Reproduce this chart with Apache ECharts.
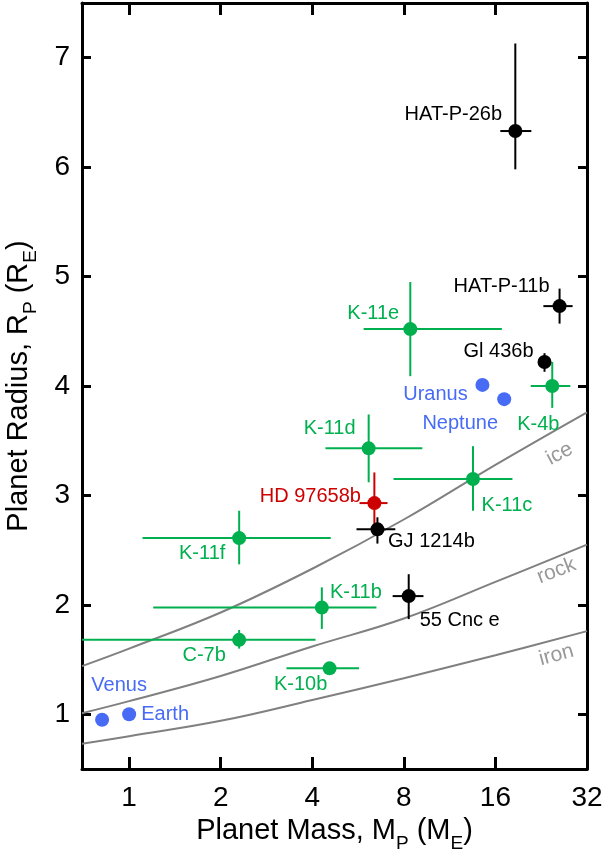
<!DOCTYPE html>
<html>
<head>
<meta charset="utf-8">
<script src="https://cdn.jsdelivr.net/npm/echarts@6/dist/echarts.min.js"></script>
<style>
html,body{margin:0;padding:0;background:#fff;}
#chart{width:607px;height:849px;}
</style>
</head>
<body>
<div id="chart"></div>
<script>
// ---- data ----
const planets = ['HAT-P-26b','HAT-P-11b','Gl 436b','K-4b','Uranus','Neptune','K-11e','K-11d','K-11c','HD 97658b','GJ 1214b','K-11f','K-11b','55 Cnc e','C-7b','K-10b','Venus','Earth'];
const groups = ['other','other','other','kepler','solar','solar','kepler','kepler','kepler','highlight','other','kepler','kepler','other','kepler','kepler','solar','solar'];
const massME = [18.6, 26.0, 23.2, 24.6, 14.5, 17.1, 8.4, 6.13, 13.5, 6.4, 6.55, 2.3, 4.3, 8.3, 2.3, 4.56, 0.815, 1.0];
const massLow = [16.6, 23.0, null, 20.9, null, null, 5.9, 4.42, 7.4, 5.72, 5.59, 1.107, 1.2, 7.35, 0.5, 3.29, null, null];
const massHigh = [21.0, 28.7, null, 28.2, null, null, 16.8, 9.2, 18.2, 7.07, 7.5, 4.6, 6.5, 9.28, 4.1, 5.7, null, null];
const radiusRE = [6.33, 4.73, 4.22, 4.0, 4.01, 3.88, 4.52, 3.43, 3.15, 2.93, 2.69, 2.61, 1.975, 2.08, 1.68, 1.42, 0.95, 1.0];
const radiusLow = [5.98, 4.57, 4.13, 3.80, null, null, 4.09, 3.12, 2.86, 2.74, 2.56, 2.37, 1.78, 1.87, 1.60, null, null, null];
const radiusHigh = [7.13, 4.89, 4.30, 4.22, null, null, 4.95, 3.74, 3.45, 3.21, 2.80, 2.86, 2.16, 2.28, 1.77, null, null, null];

const modelMass = [0.7, 1, 2, 4, 8, 16, 32];
const iceRadius = [1.44, 1.60, 1.93, 2.33, 2.78, 3.28, 3.76];
const rockRadius = [1.01, 1.12, 1.35, 1.62, 1.875, 2.21, 2.55];
const ironRadius = [0.73, 0.80, 0.94, 1.13, 1.33, 1.54, 1.76];

const modelNames = ['ice', 'rock', 'iron'];
const modelLabelMass = [26.0, 25.4, 25.4];
const modelLabelRadius = [3.38, 2.31, 1.54];

const massTicks = [1, 2, 4, 8, 16, 32];
const radiusTicks = [1, 2, 3, 4, 5, 6, 7];
const massRange = [0.7, 32];
const radiusRange = [0.5, 7.5];

// ---- styles ----
const colors = { other: '#000000', kepler: '#00b04f', solar: '#476bf5', highlight: '#cc0000' };
const labelOffsets = {
  'HAT-P-26b': [-62, -17], 'HAT-P-11b': [-58, -20], 'Gl 436b': [-46, -10], 'K-4b': [-14, 38],
  'Uranus': [-47, 10], 'Neptune': [-44, 24], 'K-11e': [-37, -16], 'K-11d': [-39, -20],
  'K-11c': [34, 26], 'HD 97658b': [-64, -7], 'GJ 1214b': [54, 12], 'K-11f': [-37, 15],
  'K-11b': [34, -15], '55 Cnc e': [51, 24], 'C-7b': [-35, 16], 'K-10b': [-29, 16],
  'Venus': [17, -34], 'Earth': [36, 0]
};
const modelLabelRotate = [28, 21, 15];
const FONT = 'Arial, "Liberation Sans", sans-serif';
const lg = v => Math.log2(v);

const xTickVals = massTicks.map(lg);

const titleRich = {
  a: { fontSize: 29, fontFamily: FONT, color: '#000', lineHeight: 29, padding: [0, 0, 7, 0], verticalAlign: 'bottom' },
  s: { fontSize: 19, fontFamily: FONT, color: '#000', lineHeight: 19, verticalAlign: 'bottom' }
};

function xAxisCfg(isMain) {
  return {
    type: 'value',
    position: isMain ? 'bottom' : 'top',
    min: lg(massRange[0]), max: lg(massRange[1]),
    axisLine: { show: true, onZero: false, lineStyle: { color: '#000', width: 3 } },
    axisTick: { show: true, inside: true, length: 12, lineStyle: { color: '#000', width: 3 }, customValues: xTickVals },
    axisLabel: { show: isMain, customValues: xTickVals, margin: 15, color: '#000', fontSize: 28, fontFamily: FONT,
      formatter: v => String(Math.round(Math.pow(2, v))) },
    splitLine: { show: false },
    name: isMain ? '{a|Planet Mass, M}{s|P}{a| (M}{s|E}{a|)}' : '',
    nameLocation: 'middle', nameGap: 42,
    nameTextStyle: { rich: titleRich }
  };
}
function yAxisCfg(isMain) {
  return {
    type: 'value',
    position: isMain ? 'left' : 'right',
    min: radiusRange[0], max: radiusRange[1],
    axisLine: { show: true, onZero: false, lineStyle: { color: '#000', width: 3 } },
    axisTick: { show: true, inside: true, length: 9, lineStyle: { color: '#000', width: 3 }, customValues: radiusTicks },
    axisLabel: { show: isMain, customValues: radiusTicks, margin: 12, color: '#000', fontSize: 28, fontFamily: FONT },
    splitLine: { show: false },
    name: isMain ? '{a|Planet Radius, R}{s|P}{a| (R}{s|E}{a|)}' : '',
    nameLocation: 'middle', nameGap: 42, nameRotate: 90,
    nameTextStyle: { rich: titleRich }
  };
}

const errData = planets.map((n, i) => ({ value: [lg(massME[i]), radiusRE[i]], name: n }));

const pointData = planets.map((n, i) => ({
  value: [lg(massME[i]), radiusRE[i]],
  name: n,
  itemStyle: { color: colors[groups[i]], opacity: 1 },
  label: { show: true, position: 'inside', offset: labelOffsets[n], formatter: n, opacity: 1,
    color: colors[groups[i]], fontSize: 20, fontFamily: FONT, align: 'center', verticalAlign: 'middle' }
}));

function modelSeries(radii) {
  return {
    type: 'line', xAxisIndex: 0, yAxisIndex: 0, silent: true, showSymbol: false, symbol: 'none',
    smooth: 0.4, clip: true,
    lineStyle: { color: '#808080', width: 2 },
    data: modelMass.map((m, i) => [lg(m), radii[i]]), z: 1
  };
}

const option = {
  animation: false,
  backgroundColor: '#fff',
  grid: { left: 82, right: 20, top: 3, bottom: 80, containLabel: false, outerBoundsMode: 'none' },
  xAxis: [xAxisCfg(true), xAxisCfg(false)],
  yAxis: [yAxisCfg(true), yAxisCfg(false)],
  series: [
    modelSeries(iceRadius), modelSeries(rockRadius), modelSeries(ironRadius),
    {
      type: 'scatter', silent: true, symbolSize: 0, z: 2,
      data: modelNames.map((n, i) => ({ value: [lg(modelLabelMass[i]), modelLabelRadius[i]], name: n,
        label: { show: true, position: 'inside', formatter: n, rotate: modelLabelRotate[i], color: '#808080',
          fontSize: 21, fontFamily: FONT, align: 'center', verticalAlign: 'middle' } }))
    },
    {
      type: 'custom', silent: true, clip: true, z: 3,
      data: errData,
      renderItem: function (params, api) {
        const i = params.dataIndex;
        const col = colors[groups[i]];
        const children = [];
        const st = { stroke: col, lineWidth: 2 };
        if (massLow[i] != null) {
          const a = api.coord([lg(massLow[i]), radiusRE[i]]);
          const b = api.coord([lg(massHigh[i]), radiusRE[i]]);
          children.push({ type: 'line', shape: { x1: a[0], y1: a[1], x2: b[0], y2: b[1] }, style: st });
        }
        if (radiusLow[i] != null) {
          const a = api.coord([lg(massME[i]), radiusLow[i]]);
          const b = api.coord([lg(massME[i]), radiusHigh[i]]);
          children.push({ type: 'line', shape: { x1: a[0], y1: a[1], x2: b[0], y2: b[1] }, style: st });
        }
        return { type: 'group', children: children };
      }
    },
    {
      type: 'scatter', silent: true, symbol: 'circle', symbolSize: 14, z: 4,
      itemStyle: { opacity: 1 },
      data: pointData
    }
  ]
};

const chart = echarts.init(document.getElementById('chart'), null, { renderer: 'canvas' });
chart.setOption(option);
</script>
</body>
</html>
